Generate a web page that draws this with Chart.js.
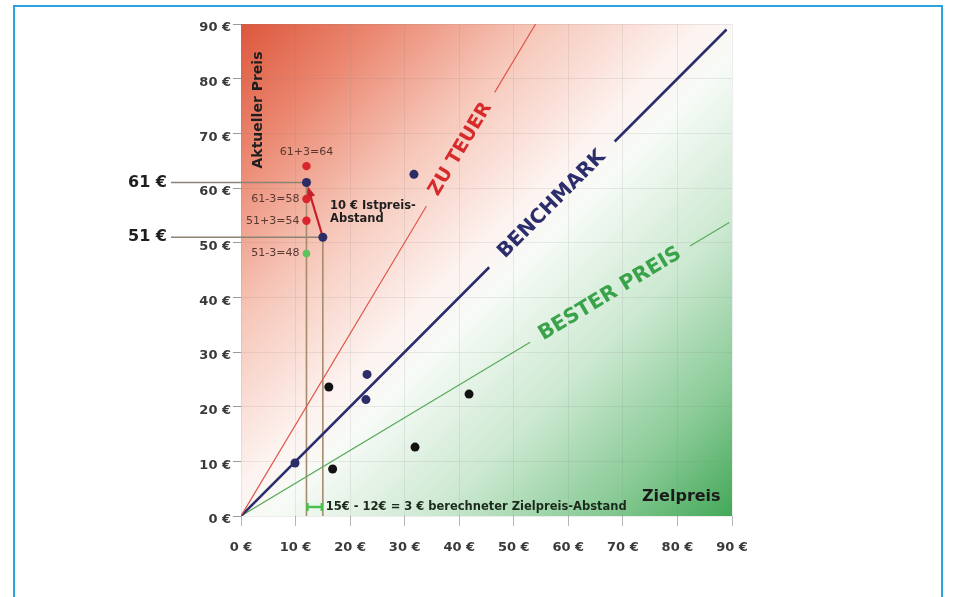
<!DOCTYPE html>
<html>
<head>
<meta charset="utf-8">
<script src="https://cdn.jsdelivr.net/npm/chart.js@4.4.1/dist/chart.umd.min.js"></script>
<style>
html,body{margin:0;padding:0;background:#fff;}
#frame{position:absolute;left:13px;top:5px;width:930px;height:640px;border:2px solid #2aa4dc;box-sizing:border-box;}
#chart{position:absolute;left:0;top:0;}
</style>
</head>
<body>
<div id="frame"></div>
<canvas id="chart" width="953" height="597"></canvas>
<script>
//-------------------- data --------------------
const tickValues=[0,10,20,30,40,50,60,70,80,90];
const tickLabels=['0 €','10 €','20 €','30 €','40 €','50 €','60 €','70 €','80 €','90 €'];

// scatter points
const navyX=[9.9,23.1,22.9,31.7,12,15];
const navyY=[9.7,25.9,21.3,62.5,61,51];
const blackX=[16.8,16.1,31.9,41.8];
const blackY=[8.6,23.6,12.6,22.3];
const redX=[12,12,12];
const redY=[64,58,54];
const redLabels=['61+3=64','61-3=58','51+3=54'];
const greenX=[12];
const greenY=[48];
const greenLabels=['51-3=48'];

// reference lines (null = gap where the label sits)
const zuTeuerX=[0,34,40,46.5,54];
const zuTeuerY=[0,56.7,null,77.5,90];
const benchX=[0,45.5,57,68.5,89];
const benchY=[0,45.5,null,68.5,89];
const bestX=[0,53,67.6,82.3,89.5];
const bestY=[0,31.8,null,49.4,53.7];

// guide lines for the worked example
const guideX=[12,15];
const guideY=[61,51];
const guideLabels=['61 €','51 €'];
const arrowFrom=[15,51];
const arrowTo=[12,61];
const spanX=[12,15];

const toPts=(xs,ys)=>xs.map((x,i)=>({x:x,y:ys[i]}));

//-------------------- drawing helpers --------------------
const FONT='"DejaVu Sans", sans-serif';

function txt(ctx,s,x,y,font,color,align,angle){
  ctx.save();
  ctx.translate(x,y);
  if(angle) ctx.rotate(angle);
  ctx.font=font;
  ctx.fillStyle=color;
  ctx.textAlign=align||'left';
  ctx.textBaseline='middle';
  ctx.fillText(s,0,0);
  ctx.restore();
}

const deco={
  id:'deco',
  beforeDraw(chart){
    const {ctx,chartArea:a}=chart;
    const g=ctx.createLinearGradient(a.left,a.top,a.right,a.bottom);
    g.addColorStop(0,'#dc573d');
    g.addColorStop(0.14,'#eb8770');
    g.addColorStop(0.3,'#f6c6b8');
    g.addColorStop(0.47,'#fdf3f0');
    g.addColorStop(0.53,'#f7fbf7');
    g.addColorStop(0.7,'#cbe8d0');
    g.addColorStop(0.86,'#8acb97');
    g.addColorStop(1,'#43a858');
    ctx.save();
    ctx.fillStyle=g;
    ctx.fillRect(a.left,a.top,a.right-a.left,a.bottom-a.top);
    ctx.restore();
  },
  beforeDatasetsDraw(chart){
    const {ctx}=chart;
    const xs=chart.scales.x, ys=chart.scales.y;
    // horizontal guides from the big labels to the points
    ctx.save();
    ctx.strokeStyle='#8c8374';
    ctx.lineWidth=1.5;
    guideY.forEach((v,i)=>{
      const py=ys.getPixelForValue(v);
      ctx.beginPath();
      ctx.moveTo(171,py);
      ctx.lineTo(xs.getPixelForValue(guideX[i]),py);
      ctx.stroke();
      txt(ctx,guideLabels[i],167,py,'bold 16px '+FONT,'#1e1e1e','right');
    });
    ctx.restore();
    // red arrow (Istpreis-Abstand)
    const x1=xs.getPixelForValue(arrowFrom[0]), y1=ys.getPixelForValue(arrowFrom[1]);
    const x2=xs.getPixelForValue(arrowTo[0]), y2=ys.getPixelForValue(arrowTo[1]);
    const ang=Math.atan2(y2-y1,x2-x1);
    const tx=x2-Math.cos(ang)*4, ty=y2-Math.sin(ang)*4;
    ctx.save();
    ctx.strokeStyle='#c61f2a';
    ctx.fillStyle='#c61f2a';
    ctx.lineWidth=2.2;
    ctx.beginPath();
    ctx.moveTo(x1,y1);
    ctx.lineTo(tx-Math.cos(ang)*8,ty-Math.sin(ang)*8);
    ctx.stroke();
    ctx.beginPath();
    ctx.moveTo(tx,ty);
    ctx.lineTo(tx-Math.cos(ang)*11+Math.sin(ang)*4.5,ty-Math.sin(ang)*11-Math.cos(ang)*4.5);
    ctx.lineTo(tx-Math.cos(ang)*11-Math.sin(ang)*4.5,ty-Math.sin(ang)*11+Math.cos(ang)*4.5);
    ctx.closePath();
    ctx.fill();
    ctx.restore();
  },
  afterDatasetsDraw(chart){
    const {ctx,chartArea:a}=chart;
    const xs=chart.scales.x, ys=chart.scales.y;
    const px=(x)=>xs.getPixelForValue(x), py=(y)=>ys.getPixelForValue(y);

    // labels along the reference lines, centred in their gaps
    [[zuTeuerX,zuTeuerY,'ZU TEUER','#d62a2b','bold 19px '],
     [benchX,benchY,'BENCHMARK','#2c2d6c','bold 20px '],
     [bestX,bestY,'BESTER PREIS','#3aa34a','bold 20.5px ']].forEach(l=>{
      const ax=px(l[0][1]), ay=py(l[1][1]), bx=px(l[0][3]), by=py(l[1][3]);
      txt(ctx,l[2],(ax+bx)/2,(ay+by)/2,l[4]+FONT,l[3],'center',Math.atan2(by-ay,bx-ax));
    });

    // point labels
    txt(ctx,redLabels[0],px(redX[0]),py(redY[0])-14,'11px '+FONT,'#5a3832','center');
    for(let i=1;i<redLabels.length;i++){
      txt(ctx,redLabels[i],px(redX[i])-7,py(redY[i]),'11px '+FONT,'#5a3832','right');
    }
    txt(ctx,greenLabels[0],px(greenX[0])-7,py(greenY[0]),'11px '+FONT,'#5a3832','right');

    txt(ctx,'10 € Istpreis-',330,206,'bold 11.5px '+FONT,'#1e1e1e','left');
    txt(ctx,'Abstand',330,219,'bold 11.5px '+FONT,'#1e1e1e','left');

    // green span marker at the bottom
    const sx1=px(spanX[0]), sx2=px(spanX[1]), sy=a.bottom-9;
    ctx.save();
    ctx.strokeStyle='#4cbf4f';
    ctx.lineWidth=2.5;
    ctx.beginPath();
    ctx.moveTo(sx1,sy); ctx.lineTo(sx2,sy);
    ctx.moveTo(sx1+1,sy-4); ctx.lineTo(sx1+1,sy+4);
    ctx.moveTo(sx2-1,sy-4); ctx.lineTo(sx2-1,sy+4);
    ctx.stroke();
    ctx.restore();
    txt(ctx,'15€ - 12€ = 3 € berechneter Zielpreis-Abstand',sx2+3,sy,'bold 11.5px '+FONT,'#1b2a1c','left');

    // axis titles
    txt(ctx,'Zielpreis',642,497,'bold 16px '+FONT,'#1a1a1a','left');
    txt(ctx,'Aktueller Preis',258,110,'bold 14px '+FONT,'#1e1e1e','center',-Math.PI/2);
  }
};

//-------------------- chart --------------------
const tickFont={family:FONT,size:13,weight:'bold'};

const lineSet=(xs,ys,color,width)=>({
  type:'line',data:toPts(xs,ys),borderColor:color,borderWidth:width,
  pointRadius:0,spanGaps:false,fill:false,order:5
});

const chart=new Chart(document.getElementById('chart'),{
  type:'scatter',
  data:{
    datasets:[
      {data:toPts(navyX,navyY),backgroundColor:'#2b2c68',pointRadius:4.5,pointBorderWidth:0,order:1},
      {data:toPts(blackX,blackY),backgroundColor:'#121212',pointRadius:4.5,pointBorderWidth:0,order:1},
      {data:toPts(redX,redY),backgroundColor:'#d9252b',pointRadius:4.2,pointBorderWidth:0,order:1},
      {data:toPts(greenX,greenY),backgroundColor:'#5cc45c',pointRadius:3.8,pointBorderWidth:0,order:1},
      lineSet(zuTeuerX,zuTeuerY,'#e0574c',1.2),
      lineSet(benchX,benchY,'#2c2d6c',2.6),
      lineSet(bestX,bestY,'#5aa95c',1.2),
      {type:'line',data:[{x:guideX[0],y:0},{x:guideX[0],y:guideY[0]}],borderColor:'#a88b6b',borderWidth:1.6,pointRadius:0,order:6},
      {type:'line',data:[{x:guideX[1],y:0},{x:guideX[1],y:guideY[1]}],borderColor:'#a88b6b',borderWidth:1.6,pointRadius:0,order:6}
    ]
  },
  options:{
    responsive:false,
    animation:false,
    layout:{padding:{top:24,right:221,bottom:0,left:0}},
    plugins:{legend:{display:false},tooltip:{enabled:false}},
    scales:{
      x:{
        type:'linear',min:0,max:90,
        afterBuildTicks:(s)=>{s.ticks=tickValues.map(v=>({value:v}));},
        afterFit:(s)=>{s.height=81;},
        ticks:{callback:(v,i)=>tickLabels[i],font:tickFont,color:'#3a3a3a',padding:14,maxRotation:0},
        grid:{color:'rgba(130,130,130,0.14)',tickColor:'#b5b5b5',tickLength:10},
        border:{display:false}
      },
      y:{
        type:'linear',min:0,max:90,
        afterBuildTicks:(s)=>{s.ticks=tickValues.map(v=>({value:v}));},
        afterFit:(s)=>{s.width=241;},
        ticks:{callback:(v,i)=>tickLabels[i],font:tickFont,color:'#3a3a3a',padding:2,labelOffset:4},
        grid:{color:'rgba(130,130,130,0.14)',tickColor:'#9a9a9a',tickLength:8},
        border:{display:false}
      }
    }
  },
  plugins:[deco]
});
</script>
</body>
</html>
